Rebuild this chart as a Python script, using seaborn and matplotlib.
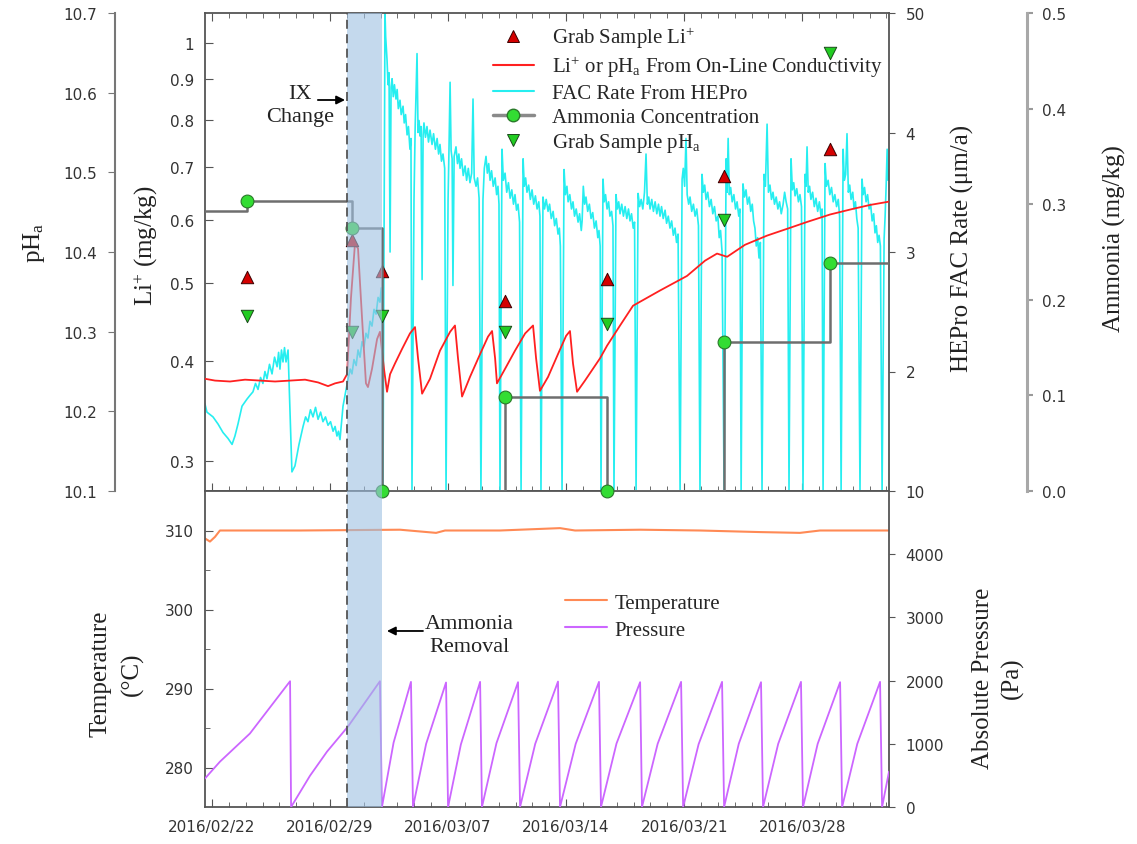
import numpy as np
import pandas as pd
import matplotlib
matplotlib.use("Agg")
import matplotlib.pyplot as plt
import matplotlib.dates as mdates
from matplotlib.lines import Line2D
from matplotlib.ticker import FixedLocator, FixedFormatter, NullLocator, FuncFormatter
import seaborn as sns

sns.set_style("ticks")
plt.rcParams["font.family"] = ["DejaVu Sans"]
plt.rcParams["mathtext.fontset"] = "custom"
plt.rcParams["mathtext.rm"] = "Liberation Serif"
plt.rcParams["mathtext.it"] = "Liberation Serif:italic"
plt.rcParams["mathtext.bf"] = "Liberation Serif:bold"

# ---------------- data (time in days after 2016-02-22 00:00) ----------------
START = "2016-02-22"
x_range_days = [-0.415, 40.15]
ix_change_day = 8.0
ammonia_removal_end_day = 10.08
date_ticks = ["2016-02-22", "2016-02-29", "2016-03-07", "2016-03-14", "2016-03-21", "2016-03-28"]

# on-line conductivity Li+ (mg/kg)
red_days = [-0.42, 0.18, 1.07, 1.96, 2.85, 3.74, 4.63, 5.52, 6.29, 6.88, 7.30, 7.77, 8.01, 8.24,
            8.48, 8.66, 8.90, 9.13, 9.25, 9.49, 9.79, 9.96, 10.20, 10.38, 10.56, 10.85, 11.27,
            11.74, 12.04, 12.22, 12.46, 12.93, 13.52, 14.12, 14.41, 14.59, 14.83, 15.30, 15.90,
            16.37, 16.61, 16.79, 16.90, 17.38, 17.97, 18.57, 19.04, 19.22, 19.45, 19.93, 20.52,
            21.00, 21.23, 21.41, 21.65, 22.12, 23.01, 23.43, 24.20, 24.97, 26.57, 28.17, 29.24,
            29.95, 30.55, 31.61, 32.92, 34.28, 35.29, 36.66, 38.02, 39.03, 40.15]
red_li = [0.380, 0.378, 0.377, 0.379, 0.378, 0.377, 0.378, 0.379, 0.376, 0.372, 0.375, 0.377, 0.385,
          0.479, 0.561, 0.553, 0.452, 0.375, 0.371, 0.391, 0.426, 0.435, 0.391, 0.366, 0.385, 0.397,
          0.414, 0.433, 0.441, 0.403, 0.364, 0.380, 0.412, 0.435, 0.443, 0.403, 0.361, 0.382, 0.408,
          0.429, 0.436, 0.403, 0.375, 0.391, 0.412, 0.433, 0.443, 0.403, 0.367, 0.382, 0.408, 0.430,
          0.436, 0.397, 0.366, 0.378, 0.403, 0.418, 0.443, 0.469, 0.490, 0.511, 0.534, 0.545, 0.540,
          0.559, 0.574, 0.587, 0.597, 0.610, 0.620, 0.627, 0.633]

# HEPro FAC rate (one line per stretch between drop-outs)
fac_days = [
    -0.42, -0.30, 0.06, 0.36, 0.65, 0.95, 1.19, 1.36, 1.54, 1.78, 2.08, 2.25, 2.43, 2.58, 2.73,
    2.88, 3.02, 3.14, 3.26, 3.41, 3.56, 3.71, 3.86, 3.95, 4.03, 4.12, 4.21, 4.30, 4.39, 4.51,
    4.63, 4.74, 4.92, 5.16, 5.40, 5.55, 5.69, 5.84, 5.99, 6.14, 6.29, 6.44, 6.58, 6.73, 6.88,
    7.03, 7.18, 7.30, 7.41, 7.50, 7.59, 7.77, 8.07, 8.20, 8.30, 8.42, 8.55, 8.66, 8.78, 8.90,
    9.01, 9.13, 9.25, 9.37, 9.49, 9.61, 9.73, 9.85, 9.96, 10.04, 10.08,
    10.14, 10.26, 10.30, 10.38, 10.44, 10.50, 10.56, 10.62, 10.68, 10.75, 10.82, 10.91, 10.98,
    11.05, 11.15, 11.22, 11.33, 11.40, 11.48, 11.57, 11.65, 11.74, 11.80, 11.86,
    11.98, 12.05, 12.16, 12.22, 12.28, 12.34, 12.40, 12.46, 12.52, 12.57, 12.66, 12.75, 12.84,
    12.93, 13.05, 13.14, 13.25, 13.35, 13.44, 13.52, 13.61, 13.70, 13.80, 13.88,
    14.00, 14.06, 14.12, 14.18, 14.24, 14.29, 14.36, 14.47, 14.56, 14.64, 14.71, 14.80, 14.90,
    15.01, 15.10, 15.20, 15.30, 15.40, 15.48, 15.55, 15.66, 15.75, 15.84, 15.95,
    16.07, 16.15, 16.25, 16.33, 16.41, 16.49, 16.58, 16.68, 16.79, 16.88, 16.96, 17.02, 17.08,
    17.20, 17.28, 17.38, 17.48, 17.58, 17.68, 17.78, 17.88, 17.97, 18.06, 18.15, 18.24, 18.33,
    18.45, 18.52, 18.60, 18.68, 18.78, 18.88, 18.98, 19.08, 19.18, 19.28, 19.38, 19.45, 19.51,
    19.63, 19.72, 19.82, 19.93, 20.02, 20.12, 20.23, 20.32, 20.42, 20.52, 20.60, 20.66, 20.76,
    20.88, 20.96, 21.05, 21.12, 21.22, 21.32, 21.41, 21.50, 21.60, 21.71, 21.80, 21.90, 21.95,
    22.02, 22.10, 22.18, 22.28, 22.38, 22.48, 22.58, 22.68, 22.78, 22.88, 22.95, 23.02, 23.07,
    23.19, 23.26, 23.34, 23.43, 23.52, 23.60, 23.70, 23.78, 23.84,
    23.96, 24.04, 24.12, 24.20, 24.30, 24.40, 24.50, 24.60, 24.70, 24.79, 24.88, 24.98, 25.06, 25.15,
    25.27, 25.36, 25.45, 25.55, 25.65, 25.74, 25.82, 25.90, 25.98, 26.08, 26.18, 26.28, 26.38,
    26.48, 26.57, 26.66, 26.76, 26.87, 26.96, 27.06, 27.16, 27.26, 27.36, 27.46, 27.55, 27.64, 27.76,
    27.88, 27.95, 28.03, 28.11, 28.18, 28.27, 28.35, 28.45, 28.55, 28.65, 28.75, 28.85, 28.94,
    29.06, 29.14, 29.22, 29.30, 29.40, 29.50, 29.60, 29.70, 29.80, 29.90, 30.00, 30.08, 30.16,
    30.25, 30.37,
    30.49, 30.55, 30.61, 30.68, 30.76, 30.85, 30.95, 31.05, 31.14, 31.24, 31.31, 31.38,
    31.49, 31.58, 31.67, 31.76, 31.86, 31.95, 32.04, 32.12, 32.20, 32.28, 32.36, 32.44, 32.52, 32.62,
    32.74, 32.82, 32.92, 33.00, 33.09, 33.18, 33.27, 33.36, 33.46, 33.56, 33.66, 33.76, 33.87,
    33.96, 34.05, 34.14, 34.22,
    34.34, 34.42, 34.50, 34.58, 34.68, 34.78, 34.87, 34.96, 35.05,
    35.17, 35.23, 35.29, 35.36, 35.44, 35.52, 35.62, 35.72, 35.82, 35.92, 36.02, 36.12, 36.18, 36.24,
    36.36, 36.44, 36.54, 36.64, 36.74, 36.84, 36.94, 37.04, 37.14, 37.22, 37.31,
    37.43, 37.50, 37.58, 37.66, 37.74, 37.82, 37.90, 38.00, 38.08, 38.16, 38.24, 38.32, 38.43,
    38.55, 38.62, 38.70, 38.79, 38.88, 38.97, 39.06, 39.15, 39.24, 39.32, 39.40, 39.48, 39.56,
    39.64, 39.74,
    39.86, 39.92, 39.98, 40.04, 40.10, 40.15]
fac_rate = [
    1.73, 1.66, 1.62, 1.56, 1.49, 1.44, 1.39, 1.46, 1.56, 1.71, 1.77, 1.80, 1.83, 1.90, 1.85,
    1.95, 1.90, 2.00, 1.94, 2.06, 1.98, 2.12, 2.04, 2.16, 2.02, 2.18, 2.08, 2.20, 2.08, 2.18,
    1.66, 1.16, 1.21, 1.39, 1.54, 1.62, 1.58, 1.68, 1.62, 1.70, 1.60, 1.66, 1.58, 1.62, 1.55,
    1.58, 1.50, 1.54, 1.46, 1.50, 1.43, 1.71, 1.94, 2.02, 1.98, 2.10, 2.05, 2.18, 2.12, 2.25,
    2.20, 2.32, 2.28, 2.42, 2.38, 2.52, 2.48, 2.62, 2.58, 2.70, 2.61,
    1.00, 5.00, 4.80, 4.61, 4.40, 4.50, 3.00, 4.38, 4.45, 4.30, 4.40, 4.28, 4.36,
    4.20, 4.27, 4.15, 4.22, 4.08, 4.15, 3.98, 4.05, 3.86, 3.95, 1.00,
    3.44, 4.05, 4.66, 4.00, 4.10, 3.97, 4.05, 2.77, 3.98, 4.08, 3.96, 4.05, 3.92,
    4.02, 3.90, 3.99, 3.86, 3.95, 3.82, 3.90, 3.76, 3.82, 3.70, 1.00,
    3.44, 3.90, 4.42, 3.85, 3.78, 2.72, 3.80, 3.88, 3.74, 3.82, 3.70, 3.78, 3.64,
    3.72, 3.60, 3.70, 3.58, 3.66, 4.28, 3.62, 3.55, 3.62, 3.45, 1.00,
    3.44, 3.70, 3.80, 3.66, 3.74, 3.60, 3.68, 3.55, 3.62, 3.48, 3.55, 3.40, 1.00,
    3.86, 3.60, 3.66, 3.50, 3.58, 3.45, 3.52, 3.40, 3.48, 3.35, 3.40, 3.25, 1.00,
    3.78, 3.55, 3.62, 3.50, 3.56, 3.44, 3.52, 3.40, 3.47, 3.36, 3.42, 3.30, 1.00,
    3.46, 3.36, 3.44, 3.34, 3.40, 3.28, 3.34, 3.22, 3.28, 3.15, 3.20, 3.05, 1.00,
    3.69, 3.48, 3.55, 3.42, 3.48, 3.36, 3.42, 3.30, 3.36, 3.25, 3.32, 3.18, 3.26,
    3.55, 3.40, 3.46, 3.34, 3.40, 3.28, 3.33, 3.20, 3.26, 3.12, 3.18, 3.05, 1.00,
    3.61, 3.42, 3.48, 3.36, 3.42, 3.30, 3.34, 3.22, 1.00,
    3.48, 3.36, 3.42, 3.32, 3.40, 3.30, 3.38, 3.28, 3.36, 3.26, 3.32, 3.20, 3.25, 1.00,
    3.49, 3.38, 3.44, 3.36, 3.50, 3.82, 3.40, 3.46, 3.36, 3.44, 3.34, 3.42, 3.32,
    3.40, 3.30, 3.38, 3.28, 3.35, 3.24, 3.30, 3.20, 3.26, 3.14, 3.20, 3.08, 3.15, 1.00,
    3.61, 3.70, 3.55, 3.95, 3.48, 3.40, 3.46, 3.34, 3.40, 3.30, 3.36, 3.22, 1.00,
    3.65, 3.50, 3.56, 3.44, 3.50, 3.38, 3.44, 3.32, 3.38, 3.26, 3.30, 3.12, 3.18,
    3.00, 1.00,
    3.78, 3.50, 3.95, 3.48, 3.54, 3.42, 3.48, 3.36, 3.42, 3.30, 3.36, 1.00,
    3.57, 3.46, 3.52, 3.40, 3.46, 3.34, 3.40, 3.26, 3.20, 3.05, 3.12, 2.95, 3.08, 1.00,
    3.65, 3.55, 4.07, 3.50, 3.56, 3.44, 3.50, 3.40, 3.46, 3.36, 3.42, 3.32, 3.40,
    3.50, 3.42, 3.36, 1.00,
    3.78, 3.52, 3.58, 3.47, 3.53, 3.42, 3.48, 3.38, 1.00,
    3.65, 3.55, 3.88, 3.50, 3.55, 3.44, 3.50, 3.38, 3.45, 3.34, 3.42, 3.30, 3.36, 1.00,
    3.74, 3.55, 3.60, 3.48, 3.54, 3.42, 3.48, 3.38, 3.44, 3.30, 1.00,
    3.86, 3.60, 3.65, 3.99, 3.50, 3.56, 3.44, 3.50, 3.36, 3.42, 3.28, 3.20, 1.00,
    3.61, 3.48, 3.54, 3.42, 3.48, 3.36, 3.40, 3.26, 3.32, 3.16, 3.22, 3.08, 3.14,
    3.05, 1.00,
    3.11, 3.30, 3.55, 3.86, 3.60, 3.69]

# grab samples
sample_days = [2.08, 8.30, 10.08, 17.38, 23.43, 30.37, 36.66]
grab_li = [0.510, 0.566, 0.518, 0.476, 0.507, 0.682, 0.737]
grab_ph = [10.32, 10.30, 10.32, 10.30, 10.31, 10.44, 10.65]
ammonia = [0.303, 0.275, 0.0, 0.098, 0.0, 0.156, 0.238]
ammonia_initial = 0.293

# temperature (degC)
temp_days = [-0.42, -0.12, 0.18, 0.47, 5.22, 11.15, 13.29, 13.82, 17.08, 20.64, 21.53, 25.39,
             28.94, 32.50, 34.87, 36.06, 40.15]
temp_vals = [309.0, 308.6, 309.2, 310.0, 310.0, 310.1, 309.7, 310.0, 310.0, 310.3, 310.0, 310.1,
             310.0, 309.8, 309.7, 310.0, 310.0]

# absolute pressure (Pa)
pres_days = [-0.42, 0.47, 2.25, 4.63, 4.69, 5.81, 6.82, 8.07, 8.96, 9.96, 10.08, 10.77, 11.80,
             11.92, 12.70, 13.88, 14.00, 14.76, 15.90, 16.01, 16.87, 18.15, 18.27, 19.17, 20.52,
             20.64, 21.57, 22.95, 23.07, 23.99, 25.39, 25.50, 26.43, 27.82, 27.94, 28.86, 30.25,
             30.37, 31.24, 32.56, 32.68, 33.58, 34.93, 35.05, 35.92, 37.25, 37.37, 38.27, 39.62,
             39.74, 40.15]
pres_vals = [450, 717, 1163, 1990, 0, 494, 876, 1275, 1610, 1990, 0, 1020, 1980,
             0, 1000, 1970, 0, 990, 1980, 0, 1010, 1975, 0, 1000, 1985,
             0, 1000, 1980, 0, 1005, 1975, 0, 1000, 1980, 0, 995, 1980,
             0, 1000, 1975, 0, 1000, 1980, 0, 1000, 1975, 0, 1000, 1980,
             0, 560]

# axes ranges / ticks
li_range = [0.275, 1.09]
li_ticks = [0.3, 0.4, 0.5, 0.6, 0.7, 0.8, 0.9, 1.0]
ph_range = [10.1, 10.7]
ph_ticks = [10.1, 10.2, 10.3, 10.4, 10.5, 10.6, 10.7]
fac_range = [1.0, 5.0]
fac_ticks = [1, 2, 3, 4, 5]
fac_tick_labels = ["10", "2", "3", "4", "50"]
nh3_range = [0.0, 0.5]
nh3_ticks = [0.0, 0.1, 0.2, 0.3, 0.4, 0.5]
temp_range = [275, 315]
temp_ticks = [280, 290, 300, 310]
temp_minor = [285, 295, 305]
pres_range = [0, 5000]
pres_ticks = [0, 1000, 2000, 3000, 4000]


def to_dates(days):
    return pd.Timestamp(START) + pd.to_timedelta(np.asarray(days, dtype=float), unit="D")


red_df = pd.DataFrame({"t": to_dates(red_days), "v": red_li})
fac_df = pd.DataFrame({"t": to_dates(fac_days), "v": fac_rate})
samp_df = pd.DataFrame({"t": to_dates(sample_days), "li": grab_li, "ph": grab_ph, "nh3": ammonia})
step_df = pd.DataFrame({"t": to_dates([x_range_days[0]] + sample_days + [x_range_days[1]]),
                        "v": [ammonia_initial] + ammonia + [ammonia[-1]]})
temp_df = pd.DataFrame({"t": to_dates(temp_days), "v": temp_vals})
pres_df = pd.DataFrame({"t": to_dates(pres_days), "v": pres_vals})

# ---------------- styling ----------------
RED = "#ff2020"
CYAN = "#26eef0"
GRAY = "#6e6e6e"
GREEN = "#33dd33"
ORANGE = "#ff8a55"
PURPLE = "#cc66ff"
BAND = "#9ec0e1"
SPINE = "#555555"
TICKC = "#333333"
SERIF = "Liberation Serif"

fig = plt.figure(figsize=(11.37, 8.45), dpi=100)
fig.patch.set_facecolor("white")
L, R = 205 / 1137, 889 / 1137
ax_fac = fig.add_axes([L, 1 - 492 / 845, R - L, 478 / 845])
ax_t = fig.add_axes([L, 1 - 808 / 845, R - L, 316 / 845], sharex=ax_fac)
ax_li = ax_fac.twinx()
ax_nh3 = ax_fac.twinx()
ax_ph = ax_fac.twinx()
ax_p = ax_t.twinx()

# ---------------- plotting ----------------
sns.lineplot(data=fac_df, x="t", y="v", ax=ax_fac, color=CYAN, lw=1.2, sort=False,
             estimator=None, legend=False)
ax_li.set_yscale("log")
sns.lineplot(data=red_df, x="t", y="v", ax=ax_li, color=RED, lw=1.3, sort=False,
             estimator=None, legend=False)
sns.scatterplot(data=samp_df, x="t", y="li", ax=ax_li, marker="^", s=80, color="#d40000",
                edgecolor="#3a0000", linewidth=0.7, legend=False, zorder=5)
sns.lineplot(data=step_df, x="t", y="v", ax=ax_nh3, color=GRAY, lw=1.8, sort=False,
             estimator=None, legend=False, drawstyle="steps-post")
sns.scatterplot(data=samp_df, x="t", y="nh3", ax=ax_nh3, marker="o", s=85, color=GREEN,
                edgecolor="#2a7a2a", linewidth=0.8, legend=False, zorder=5, clip_on=False)
sns.scatterplot(data=samp_df, x="t", y="ph", ax=ax_ph, marker="v", s=80, color="#22cc22",
                edgecolor="#1a4a1a", linewidth=0.7, legend=False, zorder=5)

sns.lineplot(data=temp_df, x="t", y="v", ax=ax_t, color=ORANGE, lw=1.5, sort=False,
             estimator=None, legend=False)
sns.lineplot(data=pres_df, x="t", y="v", ax=ax_p, color=PURPLE, lw=1.3, sort=False,
             estimator=None, legend=False)

xlo, xhi = to_dates(x_range_days)
ix_t = to_dates([ix_change_day])[0]
band_end = to_dates([ammonia_removal_end_day])[0]
for ax in (ax_ph, ax_p):
    ax.axvspan(ix_t, band_end, color=BAND, alpha=0.6, lw=0, zorder=10)
    ax.axvline(ix_t, color="#555555", ls=(0, (5, 3)), lw=1.3, zorder=11)

# ---------------- axes config ----------------
for ax in (ax_fac, ax_li, ax_nh3, ax_ph, ax_t, ax_p):
    ax.set_xlabel("")
    ax.set_ylabel("")

ax_fac.set_xlim(xlo, xhi)
ax_fac.xaxis.set_major_locator(FixedLocator(mdates.date2num(pd.to_datetime(date_ticks))))
ax_fac.xaxis.set_major_formatter(mdates.DateFormatter("%Y/%m/%d"))
ax_fac.xaxis.set_minor_locator(mdates.DayLocator())

ax_fac.tick_params(axis="x", which="both", direction="in", top=True, bottom=True,
                   labelbottom=False, color=SPINE)
ax_fac.tick_params(axis="x", which="major", length=6)
ax_fac.tick_params(axis="x", which="minor", length=3.5)
ax_t.tick_params(axis="x", which="both", direction="in", top=False, bottom=True,
                 labelbottom=True, pad=9, labelsize=11, labelcolor=TICKC, color=SPINE)
ax_t.tick_params(axis="x", which="major", length=6)
ax_t.tick_params(axis="x", which="minor", length=3.5)

# FAC axis (right)
ax_fac.set_ylim(*fac_range)
ax_fac.yaxis.tick_right()
ax_fac.yaxis.set_major_locator(FixedLocator(fac_ticks))
ax_fac.yaxis.set_major_formatter(FixedFormatter(fac_tick_labels))
ax_fac.yaxis.set_minor_locator(NullLocator())
ax_fac.tick_params(axis="y", direction="out", length=4, pad=8, labelsize=11,
                   labelcolor=TICKC, color=SPINE)

# Li axis (left, log)
ax_li.set_ylim(*li_range)
ax_li.yaxis.tick_left()
ax_li.yaxis.set_major_locator(FixedLocator(li_ticks))
ax_li.yaxis.set_major_formatter(FuncFormatter(lambda v, p: f"{v:g}"))
ax_li.yaxis.set_minor_locator(NullLocator())
ax_li.tick_params(axis="y", which="both", direction="in", length=6, pad=8, labelsize=11,
                  labelcolor=TICKC, color=SPINE)

# pH axis (offset left)
ax_ph.set_ylim(*ph_range)
ax_ph.yaxis.tick_left()
ax_ph.yaxis.set_major_locator(FixedLocator(ph_ticks))
ax_ph.yaxis.set_major_formatter(FuncFormatter(lambda v, p: f"{v:.1f}"))
ax_ph.tick_params(axis="y", direction="out", length=5, pad=8, labelsize=11,
                  labelcolor=TICKC, color="#777777")

# ammonia axis (offset right)
ax_nh3.set_ylim(*nh3_range)
ax_nh3.yaxis.tick_right()
ax_nh3.yaxis.set_major_locator(FixedLocator(nh3_ticks))
ax_nh3.yaxis.set_major_formatter(FuncFormatter(lambda v, p: f"{v:.1f}"))
ax_nh3.tick_params(axis="y", direction="out", length=4, pad=7, labelsize=11,
                   labelcolor=TICKC, color="#9a9a9a", width=1.5)

# temperature
ax_t.set_ylim(*temp_range)
ax_t.yaxis.set_major_locator(FixedLocator(temp_ticks))
ax_t.yaxis.set_minor_locator(FixedLocator(temp_minor))
ax_t.yaxis.set_major_formatter(FuncFormatter(lambda v, p: f"{v:.0f}"))
ax_t.tick_params(axis="y", which="both", direction="in", pad=8, labelsize=11,
                 labelcolor=TICKC, color=SPINE)
ax_t.tick_params(axis="y", which="major", length=6)
ax_t.tick_params(axis="y", which="minor", length=3.5)

# pressure
ax_p.set_ylim(*pres_range)
ax_p.yaxis.set_major_locator(FixedLocator(pres_ticks))
ax_p.yaxis.set_major_formatter(FuncFormatter(lambda v, p: f"{v:.0f}"))
ax_p.tick_params(axis="y", direction="out", length=4, pad=8, labelsize=11,
                 labelcolor=TICKC, color=SPINE)

# spines
for ax in (ax_fac, ax_t):
    for s in ax.spines.values():
        s.set_color(SPINE)
        s.set_linewidth(1.3)
for ax in (ax_li, ax_nh3, ax_ph, ax_p):
    for s in ax.spines.values():
        s.set_visible(False)
ax_ph.spines["left"].set_visible(True)
ax_ph.spines["left"].set_position(("axes", -0.1316))
ax_ph.spines["left"].set_color("#777777")
ax_ph.spines["left"].set_linewidth(1.5)
ax_nh3.spines["right"].set_visible(True)
ax_nh3.spines["right"].set_position(("axes", 1.2018))
ax_nh3.spines["right"].set_color("#a8a8a8")
ax_nh3.spines["right"].set_linewidth(2.2)

# axis labels
lab = dict(fontfamily=SERIF, fontsize=18, rotation=90, ha="center", va="center",
           color="#222222", multialignment="center")
ax_fac.text(-0.250, 0.522, r"pH$_{\mathrm{a}}$", transform=ax_fac.transAxes, **lab)
ax_fac.text(-0.086, 0.515, r"Li$^{+}$ (mg/kg)", transform=ax_fac.transAxes, **lab)
ax_fac.text(1.108, 0.510, "HEPro FAC Rate (\u03bcm/a)", transform=ax_fac.transAxes, **lab)
ax_fac.text(1.330, 0.531, "Ammonia (mg/kg)", transform=ax_fac.transAxes, **lab)
ax_t.text(-0.129, 0.424, "Temperature\n(\u00b0C)", transform=ax_t.transAxes,
          linespacing=1.5, **lab)
ax_t.text(1.159, 0.411, "Absolute Pressure\n(Pa)", transform=ax_t.transAxes,
          linespacing=1.35, **lab)

# annotations
ax_ph.annotate("", xy=(0.2047, 0.818), xytext=(0.165, 0.818), xycoords="axes fraction",
               arrowprops=dict(arrowstyle="-|>,head_length=0.5,head_width=0.25", color="black",
                               lw=1.3, shrinkA=0, shrinkB=0), zorder=12)
ax_ph.text(0.139, 0.8075, "IX\nChange", transform=ax_ph.transAxes, fontfamily=SERIF,
           fontsize=16, ha="center", va="center", linespacing=1.35, color="#222222")
ax_p.annotate("", xy=(0.266, 0.557), xytext=(0.3187, 0.557), xycoords="axes fraction",
              arrowprops=dict(arrowstyle="-|>,head_length=0.5,head_width=0.25", color="black",
                              lw=1.3, shrinkA=0, shrinkB=0), zorder=12)
ax_p.text(0.387, 0.544, "Ammonia\nRemoval", transform=ax_p.transAxes, fontfamily=SERIF,
          fontsize=16, ha="center", va="center", linespacing=1.3, color="#222222")

# legends
handles = [
    Line2D([], [], ls="none", marker="^", ms=9, mfc="#d40000", mec="#3a0000", mew=0.7),
    Line2D([], [], color=RED, lw=1.5),
    Line2D([], [], color=CYAN, lw=1.5),
    Line2D([], [], color="#8a8a8a", lw=2.5, marker="o", ms=9, mfc=GREEN, mec="#2a7a2a"),
    Line2D([], [], ls="none", marker="v", ms=9, mfc="#22cc22", mec="#1a4a1a", mew=0.7),
]
labels = [r"Grab Sample Li$^{+}$",
          r"Li$^{+}$ or pH$_{\mathrm{a}}$ From On-Line Conductivity",
          "FAC Rate From HEPro",
          "Ammonia Concentration",
          r"Grab Sample pH$_{\mathrm{a}}$"]
leg = ax_ph.legend(handles, labels, loc="upper left", bbox_to_anchor=(0.421, 0.975),
                   frameon=False, prop={"family": SERIF, "size": 15}, handlelength=1.95,
                   handletextpad=0.9, labelspacing=0.2, borderaxespad=0, borderpad=0)
leg.set_zorder(20)

h2 = [Line2D([], [], color=ORANGE, lw=1.5), Line2D([], [], color=PURPLE, lw=1.5)]
ax_p.legend(h2, ["Temperature", "Pressure"], loc="upper left", bbox_to_anchor=(0.526, 0.677),
            frameon=False, prop={"family": SERIF, "size": 15}, handlelength=2.05,
            handletextpad=0.35, labelspacing=0.35, borderaxespad=0, borderpad=0)

fig.savefig("out.png", dpi=100, facecolor="white")
